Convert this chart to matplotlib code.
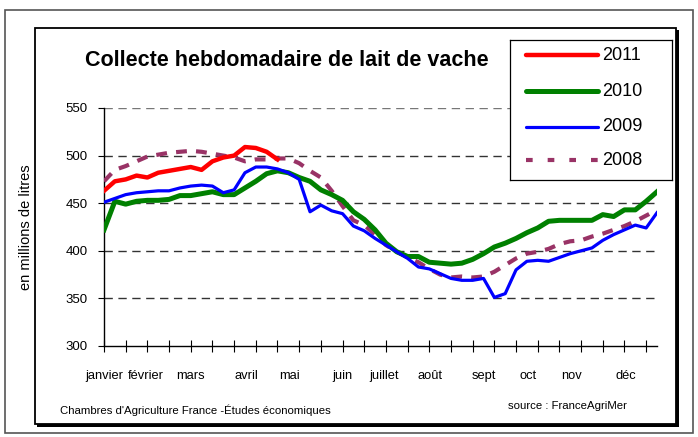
import matplotlib
matplotlib.use('Agg')
import matplotlib.pyplot as plt
import matplotlib.transforms as mtransforms
from matplotlib.patches import Rectangle
from matplotlib.lines import Line2D

# weekly milk collection, millions of litres
weeks = list(range(52))
lait_2011 = [463, 473, 475, 479, 477, 482, 484, 486, 488, 485, 494, 498, 500, 509, 508, 504, 496]
lait_2010 = [422, 452, 449, 452, 453, 453, 454, 458, 458, 460, 462, 459, 459, 466, 473, 481, 484, 482, 477, 473,
             464, 459, 453, 441, 433, 422, 408, 399, 394, 394, 388, 387, 386, 387, 391, 397, 404, 408, 413, 419,
             424, 431, 432, 432, 432, 432, 438, 436, 443, 443, 452, 462]
lait_2009 = [451, 455, 459, 461, 462, 463, 463, 466, 468, 469, 468, 461, 464, 482, 488, 488, 486, 482, 475, 441,
             448, 442, 439, 426, 421, 413, 406, 399, 392, 383, 381, 376, 371, 369, 369, 371, 351, 355, 380, 389,
             390, 389, 393, 397, 400, 403, 411, 417, 422, 427, 424, 440]
lait_2008 = [473, 485, 489, 494, 499, 501, 503, 504, 505, 504, 502, 500, 498, 494, 496, 496, 497, 497, 492, 484,
             477, 463, 447, 432, 427, 417, 406, 399, 393, 388, 381, 375, 372, 373, 372, 373, 378, 385, 392, 397,
             399, 402, 407, 410, 411, 415, 418, 422, 426, 431, 437, 443]
mois = ['janvier', 'février', 'mars', 'avril', 'mai', 'juin', 'juillet', 'août', 'sept', 'oct', 'nov', 'déc']
mois_pos = [0, 3.9, 8, 13.1, 17.1, 22, 25.8, 30.1, 35, 39.1, 43.1, 48.1]
yticks = [300, 350, 400, 450, 500, 550]

plt.rcParams['font.family'] = ['Liberation Sans', 'DejaVu Sans']

W, H = 698, 437
fig = plt.figure(figsize=(W / 100, H / 100), dpi=100)

def px(x0, y0, x1, y1):
    # pixel box -> figure fraction rect
    return (x0 / W, 1 - y1 / H, (x1 - x0) / W, (y1 - y0) / H)

# outer and inner frames
r = px(5, 10, 693, 433)
fig.patches.append(Rectangle(r[:2], r[2], r[3], transform=fig.transFigure, fill=False,
                             ec='#555555', lw=1.2, zorder=-3))
r = px(37, 30, 679, 427)
fig.patches.append(Rectangle(r[:2], r[2], r[3], transform=fig.transFigure, fill=True,
                             fc='black', ec='black', lw=0, zorder=-3))
r = px(35, 28, 676, 424)
fig.patches.append(Rectangle(r[:2], r[2], r[3], transform=fig.transFigure, fill=True,
                             fc='white', ec='black', lw=1.3, zorder=-2))

ax = fig.add_axes(px(104, 108, 657, 346))
ax.patch.set_alpha(0)
ax.plot(weeks, lait_2008, color='#993366', lw=3.0, dashes=(2.6, 2.2), zorder=3)
ax.plot(weeks, lait_2009, color='#0000ff', lw=2.3, zorder=4)
ax.plot(weeks, lait_2010, color='#008000', lw=3.6, zorder=3)
ax.plot(weeks[:len(lait_2011)], lait_2011, color='#ff0000', lw=3.2, zorder=5)

ax.set_xlim(0, 51)
ax.set_ylim(300, 550)
for s in ['top', 'right']:
    ax.spines[s].set_visible(False)
ax.spines['left'].set_linewidth(1.0)
ax.spines['bottom'].set_linewidth(1.0)

ax.set_yticks(yticks)
ax.set_yticklabels([str(v) for v in yticks], fontsize=9.5)
ax.tick_params(axis='y', direction='out', length=4, width=0.8, pad=8)
for v in yticks[1:]:
    ax.axhline(v, color='#333333' if v < 550 else '#777777', lw=1.0, dashes=(6, 4), zorder=1)

ax.set_xticks(range(0, 52, 2))
ax.set_xticklabels([])
ax.tick_params(axis='x', which='major', direction='inout', length=9, width=0.8)

# month names sit between the tick marks, not on them
trans = mtransforms.blended_transform_factory(ax.transData, fig.transFigure)
for m, p in zip(mois, mois_pos):
    ax.text(p, 1 - 376 / H, m, transform=trans, fontsize=9.3, ha='center', va='center')

ax.set_ylabel('en millions de litres', fontsize=10.5)
ax.yaxis.set_label_coords(33 / W, 0.5, transform=mtransforms.blended_transform_factory(fig.transFigure, ax.transAxes))

fig.text(287 / W, 1 - 60 / H, 'Collecte hebdomadaire de lait de vache', fontsize=15.5,
         fontweight='bold', ha='center', va='center')

# legend box drawn by hand to match the boxed layout
lx = fig.add_axes(px(510, 40, 672, 180))
lx.set_xlim(0, 1)
lx.set_ylim(0, 1)
lx.set_xticks([])
lx.set_yticks([])
for s in lx.spines.values():
    s.set_linewidth(0.9)
leg = [('2011', '#ff0000', 3.2, None, 0.89),
       ('2010', '#008000', 3.6, None, 0.635),
       ('2009', '#0000ff', 2.3, None, 0.38),
       ('2008', '#993366', 3.0, (1.6, 3.6), 0.14)]
for name, col, lw, d, yy in leg:
    ln = Line2D([0.1, 0.545], [yy, yy], color=col, lw=lw, solid_capstyle='round')
    if d:
        ln.set_dashes(d)
    lx.add_line(ln)
    lx.text(0.57, yy, name, fontsize=13, va='center', ha='left')

fig.text(60 / W, 1 - 410 / H, "Chambres d'Agriculture France -Études économiques", fontsize=8.2,
         va='center', ha='left')
fig.text(508 / W, 1 - 406 / H, 'source : FranceAgriMer', fontsize=8.2, va='center', ha='left')

fig.savefig('out.png', dpi=100)
